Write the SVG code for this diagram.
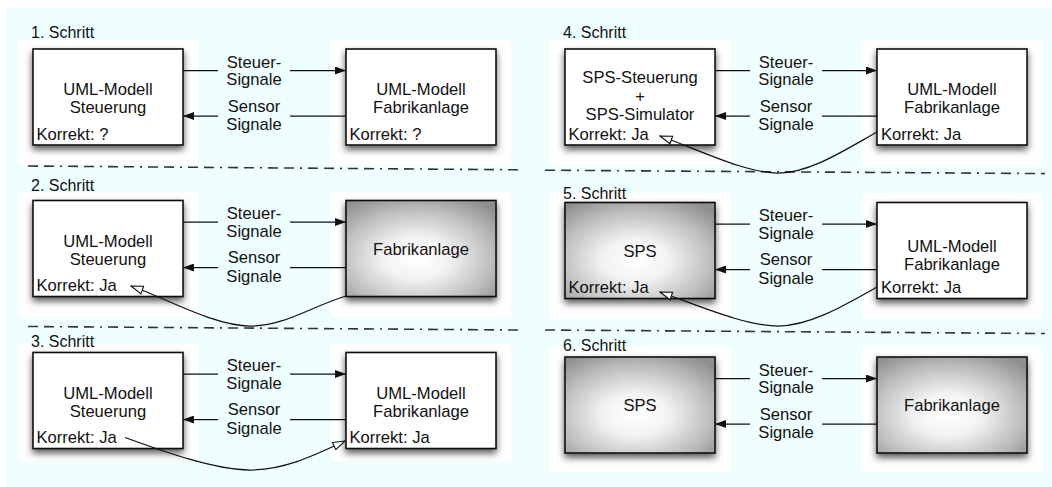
<svg xmlns="http://www.w3.org/2000/svg" width="1052" height="487" viewBox="0 0 1052 487">
<defs>
<style>
text{font-family:"Liberation Sans",Arial,Helvetica,sans-serif;font-size:16.6px;fill:#111}
.s{font-size:16px}
.c{text-anchor:middle}
.panel{fill:#ffffff}
.box{stroke:#111;stroke-width:1.6}
.white{fill:#ffffff}
.grad{fill:url(#rg)}
.link{fill:none;stroke:#111;stroke-width:1.25}
.div{fill:none;stroke:#333;stroke-width:1.6;stroke-dasharray:10 6 10 6 2 6}
</style>
<radialGradient id="rg" cx="0.47" cy="0.6" r="0.72">
<stop offset="0" stop-color="#ffffff"/>
<stop offset="0.3" stop-color="#f3f3f3"/>
<stop offset="0.7" stop-color="#bdbdbd"/>
<stop offset="1" stop-color="#8e8e8e"/>
</radialGradient>
<filter id="sh" x="-10%" y="-10%" width="125%" height="135%">
<feDropShadow dx="0" dy="4" stdDeviation="3.5" flood-color="#000" flood-opacity="0.65"/>
</filter>
<marker id="fa" viewBox="0 0 11 8" refX="11" refY="4" markerWidth="11" markerHeight="8" markerUnits="userSpaceOnUse" orient="auto">
<path d="M0,0 L11,4 L0,8 z" fill="#111"/>
</marker>
<marker id="ha" viewBox="0 0 14 10" refX="13" refY="5" markerWidth="14" markerHeight="10" markerUnits="userSpaceOnUse" orient="auto">
<path d="M1,1 L13,5 L1,9 z" fill="#fff" stroke="#111" stroke-width="1.1"/>
</marker>
</defs>
<rect x="0" y="0" width="1052" height="487" fill="#ffffff"/>
<rect x="5" y="8" width="1047" height="479" fill="#effefe"/>

<g id="panels">
<rect class="panel" x="18" y="40" width="180" height="125"/>
<rect class="panel" x="331" y="40" width="180" height="125"/>
<rect class="panel" x="18" y="192" width="180" height="125"/>
<rect class="panel" x="331" y="192" width="180" height="125"/>
<rect class="panel" x="18" y="344" width="180" height="117"/>
<rect class="panel" x="331" y="344" width="180" height="117"/>
<rect class="panel" x="550" y="40" width="180" height="125"/>
<rect class="panel" x="862" y="40" width="180" height="125"/>
<rect class="panel" x="550" y="193" width="180" height="126"/>
<rect class="panel" x="862" y="193" width="180" height="126"/>
<rect class="panel" x="550" y="347" width="180" height="125"/>
<rect class="panel" x="862" y="347" width="180" height="125"/>
</g>

<g id="dividers">
<path class="div" d="M28,166 L518,169.8"/>
<path class="div" d="M545,170.2 L1045,173.6"/>
<path class="div" d="M28,326.5 L518,330"/>
<path class="div" d="M545,330 L1045,333.5"/>
</g>

<g id="step-labels">
<text class="s" x="31" y="37.5">1. Schritt</text>
<text class="s" x="31" y="190.5">2. Schritt</text>
<text class="s" x="31" y="346.5">3. Schritt</text>
<text class="s" x="563" y="37.5">4. Schritt</text>
<text class="s" x="563" y="199">5. Schritt</text>
<text class="s" x="563" y="351">6. Schritt</text>
</g>

<!-- Step 1 -->
<g id="s1-steuerung">
<rect class="box white" x="33" y="49" width="150" height="96" filter="url(#sh)"/>
<text class="c" x="108" y="94.5">UML-Modell</text>
<text class="c" x="108" y="112.5">Steuerung</text>
<text x="36.5" y="139.5">Korrekt: ?</text>
</g>
<g id="s1-fabrik">
<rect class="box white" x="346" y="49" width="150" height="96" filter="url(#sh)"/>
<text class="c" x="421" y="95">UML-Modell</text>
<text class="c" x="421" y="113">Fabrikanlage</text>
<text x="349.5" y="139.5">Korrekt: ?</text>
</g>

<!-- Step 2 -->
<g id="s2-steuerung">
<rect class="box white" x="33" y="200.5" width="150" height="96" filter="url(#sh)"/>
<text class="c" x="108" y="246.5">UML-Modell</text>
<text class="c" x="108" y="264.5">Steuerung</text>
<text x="36.5" y="291">Korrekt: Ja</text>
</g>
<g id="s2-fabrik">
<rect class="box grad" x="346" y="200.5" width="150" height="96" filter="url(#sh)"/>
<text class="c" x="421" y="254.5">Fabrikanlage</text>
</g>

<!-- Step 3 -->
<g id="s3-steuerung">
<rect class="box white" x="33" y="352.5" width="150" height="96" filter="url(#sh)"/>
<text class="c" x="108" y="398.5">UML-Modell</text>
<text class="c" x="108" y="416.5">Steuerung</text>
<text x="36.5" y="443">Korrekt: Ja</text>
</g>
<g id="s3-fabrik">
<rect class="box white" x="346" y="352.5" width="150" height="96" filter="url(#sh)"/>
<text class="c" x="421" y="398.5">UML-Modell</text>
<text class="c" x="421" y="416.5">Fabrikanlage</text>
<text x="349.5" y="443">Korrekt: Ja</text>
</g>

<!-- Step 4 -->
<g id="s4-sps">
<rect class="box white" x="565" y="49" width="150" height="96" filter="url(#sh)"/>
<text class="c" x="640" y="83">SPS-Steuerung</text>
<text class="c" x="640" y="101.5">+</text>
<text class="c" x="640" y="120">SPS-Simulator</text>
<text x="568.5" y="139.5">Korrekt: Ja</text>
</g>
<g id="s4-fabrik">
<rect class="box white" x="877" y="49" width="150" height="96" filter="url(#sh)"/>
<text class="c" x="952" y="95">UML-Modell</text>
<text class="c" x="952" y="113">Fabrikanlage</text>
<text x="881" y="139.5">Korrekt: Ja</text>
</g>

<!-- Step 5 -->
<g id="s5-sps">
<rect class="box grad" x="565" y="202.5" width="150" height="96" filter="url(#sh)"/>
<text class="c" x="640" y="256.5">SPS</text>
<text x="568.5" y="293">Korrekt: Ja</text>
</g>
<g id="s5-fabrik">
<rect class="box white" x="877" y="202.5" width="150" height="96" filter="url(#sh)"/>
<text class="c" x="952" y="252">UML-Modell</text>
<text class="c" x="952" y="270">Fabrikanlage</text>
<text x="881" y="293">Korrekt: Ja</text>
</g>

<!-- Step 6 -->
<g id="s6-sps">
<rect class="box grad" x="565" y="357" width="150" height="96" filter="url(#sh)"/>
<text class="c" x="640" y="411">SPS</text>
</g>
<g id="s6-fabrik">
<rect class="box grad" x="877" y="357" width="150" height="96" filter="url(#sh)"/>
<text class="c" x="952" y="411">Fabrikanlage</text>
</g>

<g id="connectors">
<!-- step 1 -->
<path class="link" d="M183,70.5 H218"/><path class="link" d="M290,70.5 H346" marker-end="url(#fa)"/>
<path class="link" d="M346,116 H290"/><path class="link" d="M218,116 H183" marker-end="url(#fa)"/>
<!-- step 2 -->
<path class="link" d="M183,222 H218"/><path class="link" d="M290,222 H346" marker-end="url(#fa)"/>
<path class="link" d="M346,267.5 H290"/><path class="link" d="M218,267.5 H183" marker-end="url(#fa)"/>
<path class="link" d="M346,296 C310,307 285,326 250,326 C215,326 170,300 131,286" marker-end="url(#ha)"/>
<!-- step 3 -->
<path class="link" d="M183,374 H218"/><path class="link" d="M290,374 H346" marker-end="url(#fa)"/>
<path class="link" d="M346,419.5 H290"/><path class="link" d="M218,419.5 H183" marker-end="url(#fa)"/>
<path class="link" d="M125,437.5 C165,452 215,470 250,470 C285,470 315,455 345,441" marker-end="url(#ha)"/>
<!-- step 4 -->
<path class="link" d="M715,70.5 H750"/><path class="link" d="M822,70.5 H877" marker-end="url(#fa)"/>
<path class="link" d="M877,116 H822"/><path class="link" d="M750,116 H715" marker-end="url(#fa)"/>
<path class="link" d="M877,132 C845,150 810,173 778,173 C745,173 700,150 660,136" marker-end="url(#ha)"/>
<!-- step 5 -->
<path class="link" d="M715,224 H750"/><path class="link" d="M822,224 H877" marker-end="url(#fa)"/>
<path class="link" d="M877,269.5 H822"/><path class="link" d="M750,269.5 H715" marker-end="url(#fa)"/>
<path class="link" d="M877,287 C845,305 810,326 778,326 C745,326 700,306 660,292" marker-end="url(#ha)"/>
<!-- step 6 -->
<path class="link" d="M715,378.5 H750"/><path class="link" d="M822,378.5 H877" marker-end="url(#fa)"/>
<path class="link" d="M877,424 H822"/><path class="link" d="M750,424 H715" marker-end="url(#fa)"/>
</g>

<g id="connector-labels">
<text class="c" x="254" y="67.5">Steuer-</text><text class="c" x="254" y="85">Signale</text>
<text class="c" x="254" y="111.5">Sensor</text><text class="c" x="254" y="130">Signale</text>
<text class="c" x="254" y="219">Steuer-</text><text class="c" x="254" y="236.5">Signale</text>
<text class="c" x="254" y="263">Sensor</text><text class="c" x="254" y="281.5">Signale</text>
<text class="c" x="254" y="371">Steuer-</text><text class="c" x="254" y="388.5">Signale</text>
<text class="c" x="254" y="415">Sensor</text><text class="c" x="254" y="433.5">Signale</text>
<text class="c" x="786" y="67.5">Steuer-</text><text class="c" x="786" y="85">Signale</text>
<text class="c" x="786" y="111.5">Sensor</text><text class="c" x="786" y="130">Signale</text>
<text class="c" x="786" y="221">Steuer-</text><text class="c" x="786" y="238.5">Signale</text>
<text class="c" x="786" y="265">Sensor</text><text class="c" x="786" y="283.5">Signale</text>
<text class="c" x="786" y="375.5">Steuer-</text><text class="c" x="786" y="393">Signale</text>
<text class="c" x="786" y="419.5">Sensor</text><text class="c" x="786" y="438">Signale</text>
</g>
</svg>
